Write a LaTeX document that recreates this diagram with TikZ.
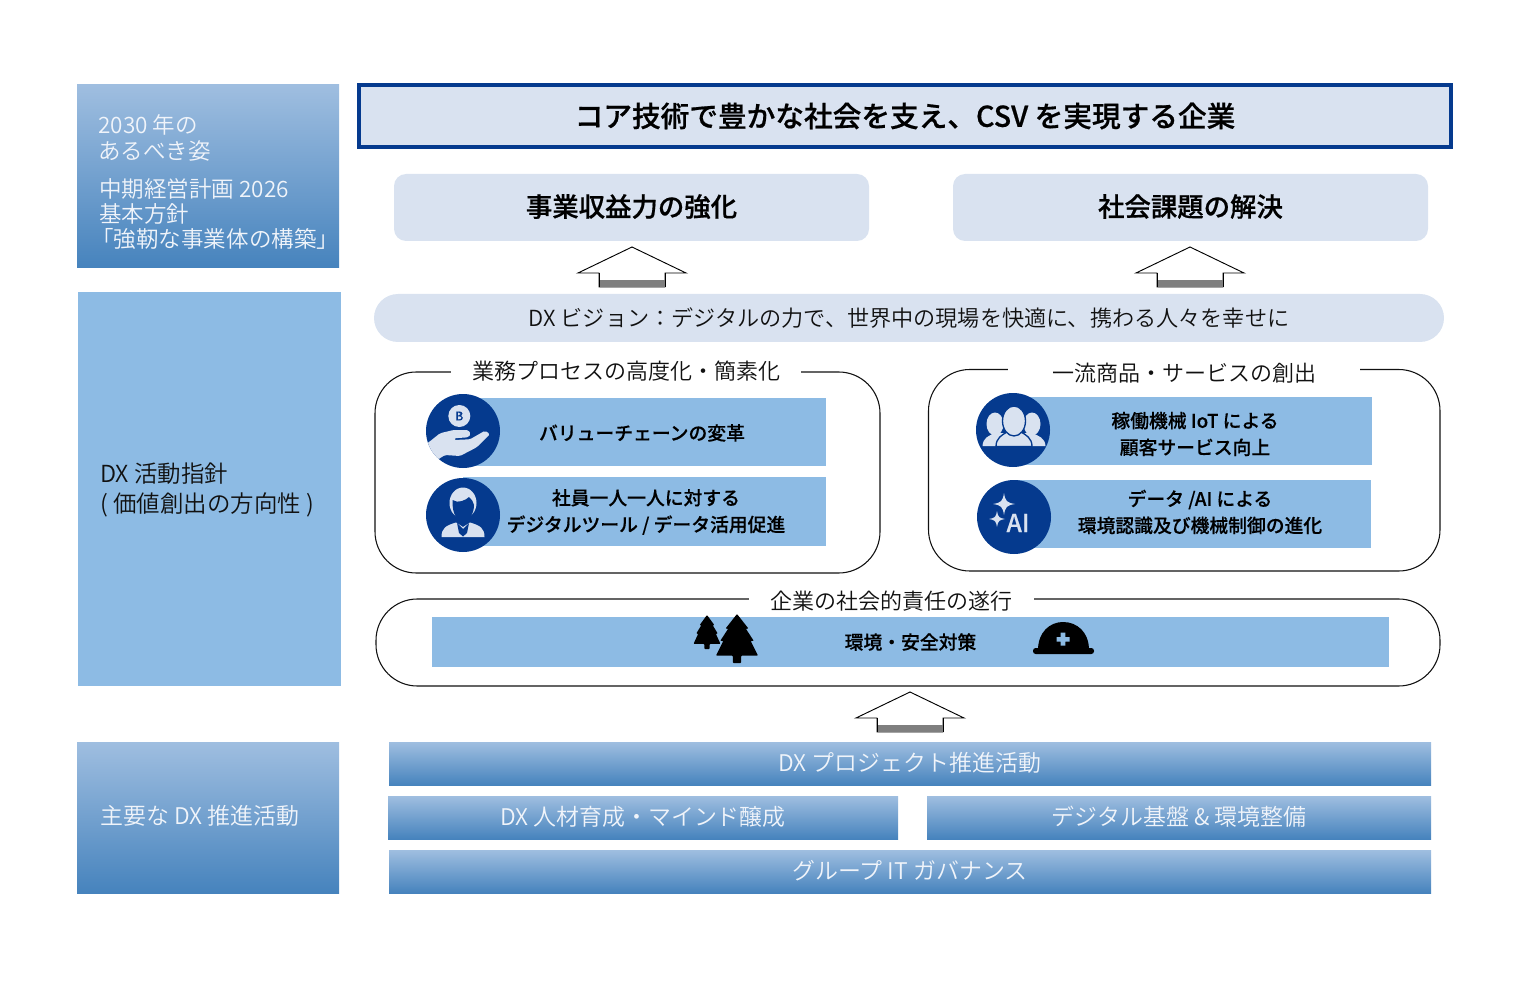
\documentclass[tikz,border=0pt]{standalone}
\usepackage{fontspec}
\setmainfont{Noto Sans CJK JP}
\newfontfamily\thinjp{Noto Sans CJK JP DemiLight}
\newfontfamily\midjp[FakeBold=0.25]{Noto Sans CJK JP Medium}
\newfontfamily\headjp[FakeBold=0.6]{Noto Sans CJK JP Medium}
\usetikzlibrary{shapes.misc}
\definecolor{paleblue}{HTML}{D9E2F0}
\definecolor{barblue}{HTML}{8DBBE4}
\definecolor{navy}{HTML}{053A8E}
\definecolor{gradtop}{HTML}{9FBEE0}
\definecolor{gradbot}{HTML}{4683BD}
\definecolor{softwhite}{HTML}{F0F4FA}
\definecolor{ink}{HTML}{111111}
\definecolor{arrowgray}{HTML}{7F7F7F}
\newcommand{\lighttext}{\thinjp\fontsize{16.5}{19}\selectfont}
\newcommand{\bandtext}{\thinjp\fontsize{17.2}{19}\selectfont}
\newcommand{\bartext}{\midjp\fontsize{14.1}{20}\selectfont}
\newcommand{\subhead}{\headjp\fontsize{19.8}{24}\selectfont}
\newcommand{\titletext}{\headjp\fontsize{21.5}{24}\selectfont}
\tikzset{
  pxbox/.style={inner sep=0pt,outer sep=0pt,anchor=north west},
  gradbox/.style={pxbox,top color=gradtop,bottom color=gradbot,text=softwhite,font=\bandtext},
  flatpanel/.style={pxbox,fill=barblue},
  bar/.style={pxbox,fill=barblue,font=\bartext,align=center,text=black},
  softbox/.style={pxbox,fill=paleblue,rounded corners=9pt,font=\subhead,text=black},
  pill/.style={pxbox,fill=paleblue,rounded corners=18pt,font=\thinjp\fontsize{16.6}{19}\selectfont,text=ink},
  titlebox/.style={pxbox,fill=paleblue,draw=navy,line width=2.6pt,font=\titletext,text=black},
  groupbox/.style={pxbox,draw=ink,line width=0.8pt,rounded corners=31pt},
  grouplabel/.style={fill=white,inner xsep=0pt,inner ysep=0pt,minimum height=14pt,font=\lighttext,text=ink},
  leftlabel/.style={anchor=west,align=left,inner sep=0pt,text=softwhite,font=\thinjp\fontsize{16.9}{19}\selectfont},
  badge/.style={circle,fill=navy,inner sep=0pt,minimum size=55.5pt},
  bartext/.style={font=\bartext,align=center,text=black,inner sep=0pt},
  blockarrow/.style={draw=black,fill=white,line width=0.7pt},
}
\newcommand{\pxnode}[7]{%
  \pgfmathsetmacro\bw{(#5-#3)*0.75}\pgfmathsetmacro\bh{(#6-#4)*0.75}%
  \node[#2,minimum width=\bw pt,minimum height=\bh pt] (#1) at (#3,#4) {#7};}
\newcommand{\uparrowicon}[3]{% centre x, tip y, name-free block arrow
  \begin{scope}[shift={(#1,#2)}]
    \draw[blockarrow] (0,0) -- (54,26) -- (33,26) -- (33,40) -- (-33,40) -- (-33,26) -- (-54,26) -- cycle;
    \fill[arrowgray] (-33,33) rectangle (33,40);
    \draw[black,line width=0.7pt] (-33,26) -- (-33,40) (33,26) -- (33,40);
  \end{scope}}
\newcommand{\treeicon}[4]{%
  \fill[black,rounded corners=0.6pt,shift={(#1,#2)},x=#3*0.75pt,y=-#4*0.75pt]
    (0,0) -- (.55,.3) -- (.42,.3) -- (.8,.55) -- (.65,.55) -- (1,.85) -- (.2,.85) -- (.2,1) -- (-.2,1) -- (-.2,.85)
    -- (-1,.85) -- (-.65,.55) -- (-.8,.55) -- (-.42,.3) -- (-.55,.3) -- cycle;}
\newcommand{\sparkle}[3]{%
  \fill[paleblue,shift={(#1,#2)},scale=#3] (0,-1) .. controls (.12,-.25) and (.25,-.12) .. (1,0)
    .. controls (.25,.12) and (.12,.25) .. (0,1) .. controls (-.12,.25) and (-.25,.12) .. (-1,0)
    .. controls (-.25,-.12) and (-.12,-.25) .. (0,-1) -- cycle;}
\begin{document}
\begin{tikzpicture}[x=0.75pt,y=-0.75pt]
\useasboundingbox (0,0) rectangle (1520,998);
% left column
\pxnode{goalpanel}{gradbox}{77}{85}{339}{268}{}
\node[leftlabel] (goaltext) at (98,138) {2030 年の\\あるべき姿};
\node[leftlabel] (plantext) at (99,214) {中期経営計画 2026\\基本方針\\\hspace{-6pt}「強靭な事業体の構築」};
\pxnode{policypanel}{flatpanel}{78}{292}{341}{686}{}
\node[leftlabel,text=ink,font=\thinjp\fontsize{17.6}{22.5}\selectfont] (policytext) at (100,490) {DX 活動指針\\( 価値創出の方向性 )};
\pxnode{activitypanel}{gradbox}{77}{742}{339}{893}{}
\node[leftlabel,font=\bandtext] (activitytext) at (100,816) {主要な DX 推進活動};
% top
\pxnode{title}{titlebox}{359}{85}{1451}{147}{\raisebox{2pt}{コア技術で豊かな社会を支え、CSV を実現する企業}}
\pxnode{earn}{softbox}{394}{174}{869}{241}{\raisebox{3.2pt}{事業収益力の強化}}
\pxnode{social}{softbox}{953}{174}{1428}{241}{\raisebox{3.2pt}{社会課題の解決}}
\uparrowicon{632}{247}{}
\uparrowicon{1190}{247}{}
\pxnode{vision}{pill}{374}{294}{1444}{342}{DX ビジョン：デジタルの力で、世界中の現場を快適に、携わる人々を幸せに}
% groups
\pxnode{groupA}{groupbox}{375}{372}{880}{573}{}
\node[grouplabel,minimum width=262.5pt] (groupAlabel) at (626,371) {業務プロセスの高度化・簡素化};
\pxnode{groupB}{groupbox}{928.5}{369.5}{1440}{571}{}
\node[grouplabel,minimum width=264pt] (groupBlabel) at (1184,373) {一流商品・サービスの創出};
\pxnode{groupC}{groupbox}{376}{599}{1440}{686}{}
\node[grouplabel,minimum width=214pt] (groupClabel) at (891.5,601) {企業の社会的責任の遂行};
% bars
\pxnode{barA}{bar}{463}{398}{826}{466}{}
\node[bartext] (barAtext) at (642,433) {バリューチェーンの変革};
\pxnode{barB}{bar}{463}{477}{826}{546}{}
\node[bartext] (barBtext) at (646,512) {社員一人一人に対する\\デジタルツール / データ活用促進};
\pxnode{barC}{bar}{1013}{397}{1372}{465}{}
\node[bartext] (barCtext) at (1195,434) {稼働機械 IoT による\\顧客サービス向上};
\pxnode{barD}{bar}{1014}{480}{1371}{548}{}
\node[bartext] (barDtext) at (1200,512) {データ /AI による\\環境認識及び機械制御の進化};
\pxnode{barE}{bar}{432}{617}{1389}{667}{環境・安全対策}
% badges
\node[badge] (badgeA) at (463,431) {};
\node[badge] (badgeB) at (463,515) {};
\node[badge] (badgeC) at (1013,430) {};
\node[badge] (badgeD) at (1014,517) {};
% hand icon
\begin{scope}
  \clip (463,431) circle (37);
  \fill[paleblue,rounded corners=1.2pt] (424,446) -- (440,433.3) -- (453.3,430) -- (468.3,430) -- (470.7,434) -- (468.3,437.3) -- (454,438.3) -- (454,440) -- (470,439.3) -- (485,430.7) -- (490,434) -- (476.7,447.3) -- (460,456) -- (445,455) -- (434,462) -- cycle;
\end{scope}
\fill[paleblue] (459.3,416) circle (11);
\node[inner sep=0pt,text=navy,font=\midjp\fontsize{9}{10}\selectfont] (coinB) at (459.3,416) {B};
% person icon
\fill[paleblue] (463,503) ellipse (13.5 and 15.5);
\fill[navy] (452.5,500) .. controls (458,504) and (466,500) .. (469,497) .. controls (472,500) and (473.5,502) .. (474,505) .. controls (474,514) and (469,521) .. (463,522) .. controls (457,521) and (452,514) .. (452.5,500) -- cycle;
\fill[paleblue] (441.5,537) .. controls (441.5,528) and (446,525.5) .. (456,522.5) -- (463,527) -- (470,522.5) .. controls (480,525.5) and (484.5,528) .. (484.5,537) -- cycle;
\fill[navy] (457,523) -- (463,529) -- (469,523) -- (467,533) -- (463,536.5) -- (459,533) -- cycle;
% people icon
\fill[paleblue] (995,424) ellipse (8.5 and 11.5);
\fill[paleblue] (1032,424) ellipse (8.5 and 11.5);
\fill[paleblue] (982.5,446) .. controls (983,438) and (988,436) .. (995,433) -- (1032,433) .. controls (1039,436) and (1045,438) .. (1045.5,446) -- cycle;
\fill[paleblue,draw=navy,line width=1pt] (996,446.5) .. controls (996,438) and (1002,435) .. (1007,432) -- (1021,432) .. controls (1026,435) and (1032,438) .. (1032,446.5) -- cycle;
\fill[paleblue,draw=navy,line width=1pt] (1014,421) ellipse (11.5 and 15);
% AI icon
\sparkle{1004}{504}{11}
\sparkle{997}{519}{8}
\node[inner sep=0pt,text=paleblue,font=\midjp\fontsize{18.5}{20}\selectfont] (aitext) at (1018,523) {AI};
% safety icons
\treeicon{707}{615}{13.5}{34}
\treeicon{737}{614}{21}{49}
\fill[black] (1038,650) .. controls (1038,632) and (1050,622) .. (1063,622) .. controls (1077,622) and (1089,632) .. (1089,650) -- cycle;
\fill[black,rounded corners=2pt] (1033,648) rectangle (1094,654);
\fill[barblue] (1056.5,637) rectangle (1069.5,641.5) (1060.7,632.5) rectangle (1065.3,645.5);
% lower arrow and bands
\uparrowicon{910}{692}{}
\pxnode{bandA}{gradbox}{389}{742}{1431}{785.5}{\raisebox{3pt}{DX プロジェクト推進活動}}
\pxnode{bandB}{gradbox}{388}{796}{898}{839}{\raisebox{3pt}{DX 人材育成・マインド醸成}}
\pxnode{bandC}{gradbox}{927}{796}{1431}{839}{\raisebox{3pt}{デジタル基盤 \& 環境整備}}
\pxnode{bandD}{gradbox}{389}{850}{1431}{893}{\raisebox{3pt}{グループ IT ガバナンス}}
\end{tikzpicture}
\end{document}
